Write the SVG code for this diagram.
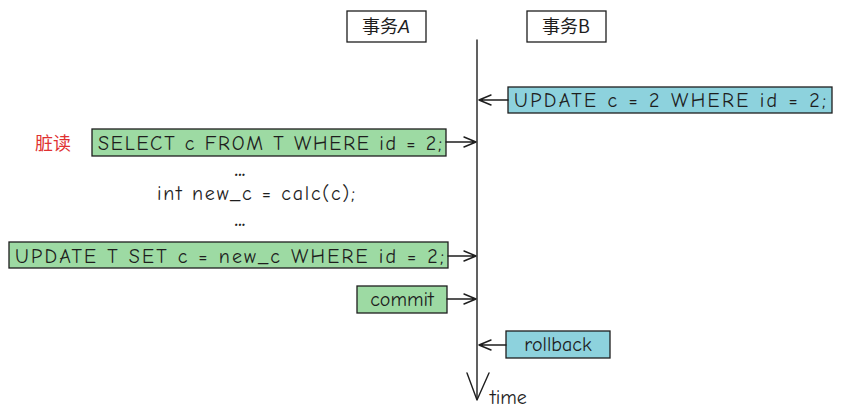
<svg xmlns="http://www.w3.org/2000/svg" width="842" height="419" viewBox="0 0 842 419">
<style>
.box{stroke:#1e1e1e;stroke-width:1.3}
.g{fill:#9ddaa3}
.b{fill:#8dd2dd}
.w{fill:#ffffff}
.t{font-family:"Comic Neue","Liberation Sans","DejaVu Sans",sans-serif;font-size:20px;fill:#1e1e1e}
.cn{font-family:"Noto Sans CJK SC","Noto Sans",sans-serif;font-size:18px;fill:#1e1e1e}
.ln{stroke:#1e1e1e;stroke-width:1.4;fill:none;stroke-linecap:round;stroke-linejoin:round}
</style>
<rect width="842" height="419" fill="#ffffff"/>
<g id="txA">
<rect class="box w" x="347" y="11" width="79" height="31"/>
<text class="cn" x="386" y="33" text-anchor="middle">事务<tspan font-family="Liberation Sans,sans-serif" font-style="italic">A</tspan></text>
</g>
<g id="txB">
<rect class="box w" x="527" y="11" width="79" height="31"/>
<text class="cn" x="566" y="33" text-anchor="middle">事务B</text>
</g>
<g id="timeline">
<path class="ln" d="M477 40 L477 399" stroke-width="2"/>
<path class="ln" d="M467 373 L477 400 L489 373"/>
<text class="t" x="490" y="404" font-size="17">time</text>
</g>
<g id="updB">
<rect class="box b" x="508" y="87" width="324" height="26"/>
<text class="t" x="514" y="107" textLength="312" lengthAdjust="spacing">UPDATE c = 2 WHERE id = 2;</text>
</g>
<g id="dirty">
<text x="35" y="150" font-family="Noto Sans CJK SC,sans-serif" font-size="18" fill="#e03131">脏读</text>
</g>
<g id="select">
<rect class="box g" x="92" y="129" width="354" height="27"/>
<text class="t" x="98" y="150" textLength="344" lengthAdjust="spacing">SELECT c FROM T WHERE id = 2;</text>
</g>
<g id="code">
<text class="t" x="240" y="176" text-anchor="middle" font-weight="bold">...</text>
<text class="t" x="256" y="200" text-anchor="middle" textLength="198" lengthAdjust="spacing">int new_c = calc(c);</text>
<text class="t" x="240" y="226" text-anchor="middle" font-weight="bold">...</text>
</g>
<g id="updA">
<rect class="box g" x="9" y="242" width="439" height="26"/>
<text class="t" x="15" y="263" textLength="429" lengthAdjust="spacing">UPDATE T SET c = new_c WHERE id = 2;</text>
</g>
<g id="commit">
<rect class="box g" x="357" y="286" width="90" height="27"/>
<text class="t" x="402" y="306" text-anchor="middle" font-size="18">commit</text>
</g>
<g id="rollback">
<rect class="box b" x="506" y="331" width="104" height="27"/>
<text class="t" x="558" y="351" text-anchor="middle">rollback</text>
</g>
<g id="connectors">
<path class="ln" d="M508 100 L479 100 M491 95 L479 100 L491 105"/>
<path class="ln" d="M446 142 L476 142 M464 137 L476 142 L464 147"/>
<path class="ln" d="M448 256 L476 256 M464 251 L476 256 L464 261"/>
<path class="ln" d="M447 299 L476 299 M464 294 L476 299 L464 304"/>
<path class="ln" d="M506 345 L479 345 M491 340 L479 345 L491 350"/>
</g>
</svg>
